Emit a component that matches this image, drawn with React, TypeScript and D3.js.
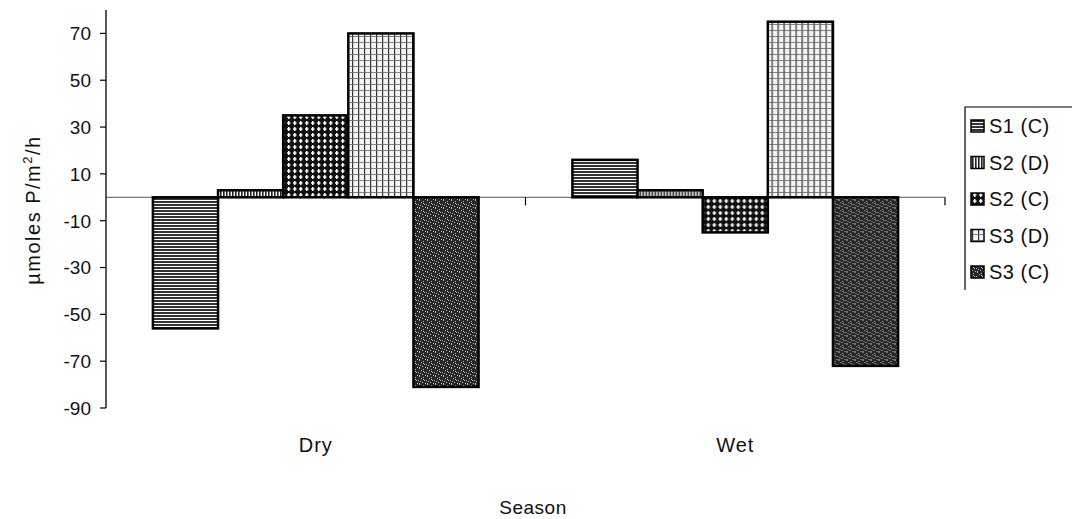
import React from "react";
import { scaleBand, scaleLinear, range } from "d3";

// chart data
const seasons = ["Dry", "Wet"];
const seriesNames = ["S1 (C)", "S2 (D)", "S2 (C)", "S3 (D)", "S3 (C)"];
const dryValues = [-56, 3, 35, 70, -81];
const wetValues = [16, 3, -15, 75, -72];
const yTicks = [70, 50, 30, 10, -10, -30, -50, -70, -90];

const W = 1072;
const H = 519;
const margin = { top: 10, right: 127, bottom: 111, left: 106 };
const font = "Arimo, 'Liberation Sans', Arial, sans-serif";

const patternIds = ["pS1C", "pS2D", "pS2C", "pS3D", "pS3C"];

function Patterns() {
  // fixed speckle positions for the stipple tile
  const speckle = [[1, 0], [5, 1], [3, 2], [0, 4], [6, 4], [2, 5], [4, 6], [7, 7], [1, 7], [5, 3]];
  return (
    <defs>
      <pattern id="pS1C" width={6} height={3} patternUnits="userSpaceOnUse">
        <rect width={6} height={3} fill="#fff" />
        <rect width={6} height={2} fill="#333" />
      </pattern>
      <pattern id="pS2D" width={3} height={6} patternUnits="userSpaceOnUse">
        <rect width={3} height={6} fill="#fff" />
        <rect width={1.6} height={6} fill="#222" />
      </pattern>
      <pattern id="pS2C" width={6} height={6} patternUnits="userSpaceOnUse">
        <rect width={6} height={6} fill="#111" />
        <rect x={2} y={1} width={1.5} height={4} fill="#fff" />
        <rect x={1} y={2.3} width={3.5} height={1.4} fill="#fff" />
      </pattern>
      <pattern id="pS3D" width={6} height={6} patternUnits="userSpaceOnUse">
        <rect width={6} height={6} fill="#f4f4f4" />
        <rect x={0} width={1.2} height={6} fill="#333" />
        <rect y={0} width={6} height={0.8} fill="#666" />
      </pattern>
      <pattern id="pS3C" width={8} height={8} patternUnits="userSpaceOnUse">
        <rect width={8} height={8} fill="#262626" />
        {speckle.map(([x, y], i) => (
          <rect key={i} x={x} y={y} width={1} height={1} fill="#bbb" />
        ))}
      </pattern>
    </defs>
  );
}

export default function App() {
  const x0 = scaleBand<string>()
    .domain(seasons)
    .range([margin.left, W - margin.right])
    .paddingInner(0)
    .paddingOuter(0);
  const x1 = scaleBand<string>()
    .domain(seriesNames)
    .range([0, x0.bandwidth()])
    .paddingInner(0)
    .paddingOuter(0.72);
  const y = scaleLinear().domain([-90, 80]).range([H - margin.bottom, margin.top]);
  const y0 = y(0);
  const groups = [dryValues, wetValues];
  const xRight = W - margin.right;

  return (
    <div style={{ position: "absolute", left: 0, top: 0 }}>
      <svg width={W} height={H} style={{ display: "block", background: "#fff" }}>
        <Patterns />

        {/* zero line / category axis */}
        <line x1={margin.left} x2={xRight} y1={y0} y2={y0} stroke="#555" strokeWidth={1} />
        {range(1, seasons.length + 1).map(i => (
          <line key={i} x1={margin.left + i * x0.step()} x2={margin.left + i * x0.step()} y1={y0} y2={y0 + 8} stroke="#000" strokeWidth={1.2} />
        ))}

        {/* bars */}
        {seasons.map((s, gi) => (
          <g key={s} transform={`translate(${x0(s)},0)`}>
            {groups[gi].map((v, si) => (
              <rect
                key={si}
                x={x1(seriesNames[si])}
                y={Math.min(y(v), y0)}
                width={x1.bandwidth()}
                height={Math.abs(y(v) - y0)}
                fill={`url(#${patternIds[si]})`}
                stroke="#000"
                strokeWidth={2.5}
              />
            ))}
          </g>
        ))}

        {/* y axis */}
        <line x1={margin.left} x2={margin.left} y1={margin.top} y2={y(-90)} stroke="#000" strokeWidth={1.3} />
        {yTicks.map(t => (
          <g key={t}>
            <line x1={margin.left - 6} x2={margin.left} y1={y(t)} y2={y(t)} stroke="#000" strokeWidth={1.2} />
            <text x={margin.left - 15} y={y(t)} dy="0.36em" textAnchor="end" fontFamily={font} fontSize={19} fill="#111">
              {t}
            </text>
          </g>
        ))}

        {/* category labels */}
        {seasons.map(s => (
          <text key={s} x={(x0(s) as number) + x0.bandwidth() / 2} y={452} textAnchor="middle" fontFamily={font} fontSize={20} letterSpacing={1} fill="#111">
            {s}
          </text>
        ))}

        {/* axis titles */}
        <text x={533} y={514} textAnchor="middle" fontFamily={font} fontSize={19} letterSpacing={0.5} fill="#111">Season</text>
        <text transform="translate(40,210) rotate(-90)" textAnchor="middle" fontFamily={font} fontSize={20} letterSpacing={1.5} fill="#111">
          µmoles  P/m<tspan dy={-8} fontSize={13}>2</tspan><tspan dy={8}>/h</tspan>
        </text>

        {/* legend */}
        <path d={`M965,290 V107 H${W}`} fill="none" stroke="#000" strokeWidth={1.2} />
        {seriesNames.map((n, i) => {
          const ly = 126 + i * 36.5;
          return (
            <g key={n}>
              <rect x={971} y={ly - 6} width={13} height={12} fill={`url(#${patternIds[i]})`} stroke="#000" strokeWidth={1.5} />
              <text x={989} y={ly} dy="0.36em" fontFamily={font} fontSize={20} letterSpacing={0.5} fill="#111">{n}</text>
            </g>
          );
        })}
      </svg>
    </div>
  );
}
